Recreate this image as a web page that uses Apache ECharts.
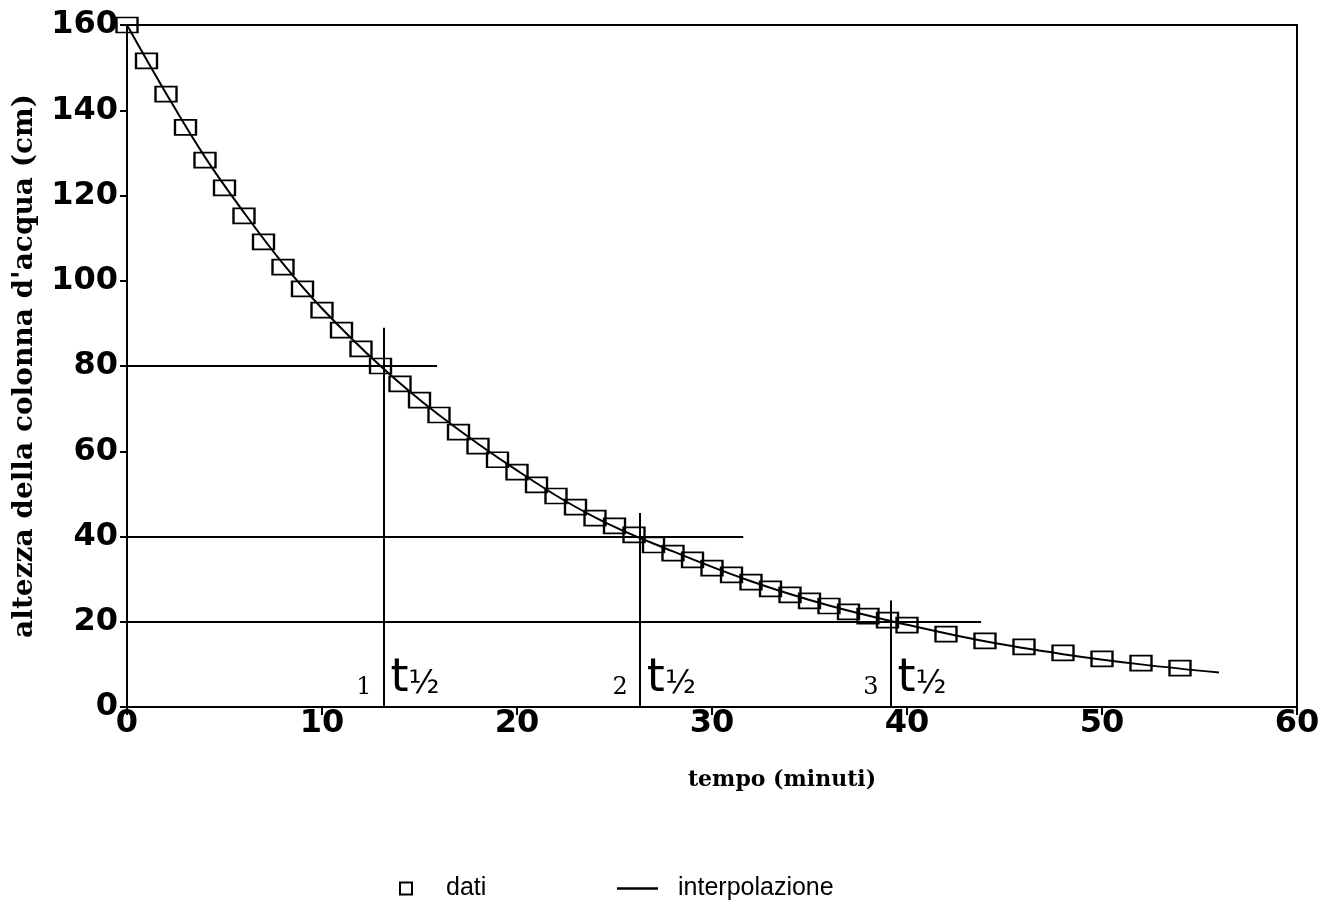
<!DOCTYPE html>
<html><head><meta charset="utf-8">
<script src="https://cdn.jsdelivr.net/npm/echarts@6/dist/echarts.min.js"></script>
<style>html,body{margin:0;padding:0;background:#fff}#c{width:1323px;height:907px}</style>
</head><body><div id="c"></div>
<script>
// measured data (time in minutes, height in cm)
const timeData = [0,1,2,3,4,5,6,7,8,9,10,11,12,13,14,15,16,17,18,19,20,21,22,23,24,25,26,27,28,29,30,31,32,33,34,35,36,37,38,39,40,42,44,46,48,50,52,54];
const heightData = [160,151.6,143.8,136,128.3,121.8,115.2,109.1,103.2,98.1,93.1,88.4,84,80,75.8,72,68.5,64.5,61.2,58,55.1,52.1,49.5,46.9,44.3,42.5,40.4,38,36.1,34.5,32.6,31,29.3,27.7,26.3,24.9,23.7,22.3,21.3,20.4,19.2,17.1,15.5,14.1,12.7,11.3,10.3,9.1];
// interpolation curve
const curveTime = [0,2,4,6,8,10,13,16,20,24,28,32,36,40,44,48,52,56];
const curveHeight = [160,144,129,116,104,93.5,80,68.5,55.5,44.5,36.5,29.5,23.8,19.3,15.4,12.4,10,8.1];
// half-life construction lines
const halfLevels = [80,40,20];
const halfTimes = [13.15,26.3,39.15];
const hLineEnds = [15.9,31.6,43.8];
const vLineTops = [89,45.5,25];
const halfIndex = ['1','2','3'];
const xTicks = [0,10,20,30,40,50,60];
const yTicks = [0,20,40,60,80,100,120,140,160];

const chart = echarts.init(document.getElementById('c'));
const guideData = [];
for (let i=0;i<halfLevels.length;i++){
  guideData.push([{coord:[0,halfLevels[i]]},{coord:[hLineEnds[i],halfLevels[i]]}]);
  guideData.push([{coord:[halfTimes[i],0]},{coord:[halfTimes[i],vLineTops[i]]}]);
}
const numLabels = halfTimes.map((t,i)=>({coord:[t,4.5],value:halfIndex[i],
  label:{show:true,position:'left',distance:12,formatter:halfIndex[i],fontSize:24,fontFamily:'DejaVu Serif',color:'#000'}}));
const tLabels = halfTimes.map((t,i)=>({coord:[t,6.5],value:'t',
  label:{show:true,position:'right',distance:7,formatter:'{t|t}{h|½}',color:'#000',
    rich:{t:{fontSize:46,fontFamily:'DejaVu Sans',fontWeight:'normal',color:'#000'},
          h:{fontSize:32,fontFamily:'DejaVu Sans',color:'#000',padding:[10,0,0,0]}}}}));

chart.setOption({
  animation:false,
  backgroundColor:'#fff',
  grid:{left:127,right:26,top:25,bottom:200,show:true,borderColor:'#000',borderWidth:2,backgroundColor:'transparent'},
  xAxis:{type:'value',min:0,max:60,interval:10,
    name:'tempo (minuti)',nameLocation:'middle',nameGap:62,
    nameTextStyle:{fontFamily:'DejaVu Serif',fontWeight:'bold',fontSize:22,color:'#000',padding:[0,0,0,140]},
    axisLine:{show:true,lineStyle:{color:'#000',width:2}},
    axisTick:{show:true,length:8,lineStyle:{color:'#000',width:2}},
    axisLabel:{fontFamily:'DejaVu Sans',fontWeight:'bold',fontSize:32,color:'#000',margin:1,
      formatter:v=>xTicks.includes(v)?String(v):''},
    splitLine:{show:false}},
  yAxis:{type:'value',min:0,max:160,interval:20,
    name:"altezza della colonna d'acqua (cm)",nameLocation:'middle',nameGap:88,nameRotate:90,
    nameTextStyle:{fontFamily:'DejaVu Serif',fontWeight:'bold',fontSize:28,color:'#000'},
    axisLine:{show:true,lineStyle:{color:'#000',width:2}},
    axisTick:{show:true,length:7,lineStyle:{color:'#000',width:2}},
    axisLabel:{fontFamily:'DejaVu Sans',fontWeight:'bold',fontSize:32,color:'#000',margin:9,
      formatter:v=>yTicks.includes(v)?String(v):''},
    splitLine:{show:false}},
  legend:[
    {data:[{name:'dati',icon:'rect',itemStyle:{color:'transparent',borderColor:'#000',borderWidth:2}}],
     left:394,top:871,itemWidth:12,itemHeight:12,
     textStyle:{fontFamily:'Liberation Sans',fontSize:25,color:'#000',padding:[0,0,0,29]}},
    {data:[{name:'interpolazione',icon:'path://M0,0L1,0L1,0.06L0,0.06Z'}],
     left:612,top:871,itemWidth:41,itemHeight:26,
     textStyle:{fontFamily:'Liberation Sans',fontSize:25,color:'#000',padding:[0,0,0,15]}}
  ],
  series:[
    {name:'guide',type:'line',data:[],silent:true,
     markLine:{symbol:'none',silent:true,label:{show:false},lineStyle:{color:'#000',width:2,type:'solid'},data:guideData},
     markPoint:{symbol:'circle',symbolSize:0,silent:true,data:numLabels.concat(tLabels)}},
    {name:'interpolazione',type:'line',smooth:0.4,showSymbol:false,symbol:'none',
     data:curveTime.map((t,i)=>[t,curveHeight[i]]),
     lineStyle:{color:'#000',width:2},itemStyle:{color:'#000'},z:3},
    {name:'dati',type:'scatter',symbol:'rect',symbolSize:[21,15],
     data:timeData.map((t,i)=>[t,heightData[i]]),
     itemStyle:{color:'transparent',borderColor:'#000',borderWidth:2,opacity:1},z:4}
  ]
});
</script></body></html>
